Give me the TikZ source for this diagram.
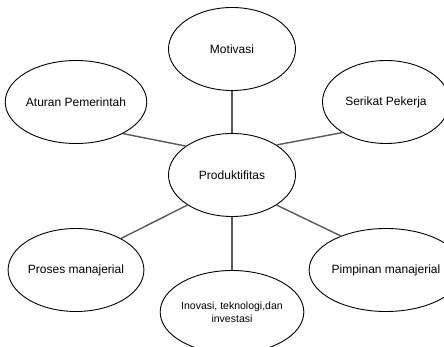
\documentclass[tikz,border=0pt]{standalone}
\usepackage{fontspec}
\setmainfont{Liberation Sans}
\usetikzlibrary{shapes,positioning}

\begin{document}
\begin{tikzpicture}[x=1pt, y=-1pt, every node/.style={ellipse, draw, line width=0.9pt, minimum width=127pt, minimum height=83pt, inner sep=0pt, font=\fontsize{12}{14}\selectfont}]
				\useasboundingbox (0,0) rectangle (444,347);
				\node (motiv) at (232,49) {Motivasi};
				\node (aturan) at (76,102) {Aturan Pemerintah};
				\node (serikat) at (386,102) {Serikat Pekerja};
				\node (prod) at (232,175) {Produktifitas};
				\node (proses) at (76,270) {Proses manajerial};
				\node (pimpinan) at (386,270) {Pimpinan manajerial};
				\node[align=center, font=\fontsize{10.5}{12.5}\selectfont] (inovasi) at (232,312) {Inovasi, teknologi,dan\\investasi};
				
				\draw[line width=1.4pt, black!65] (motiv) -- (prod);
				\draw[line width=1.4pt, black!65] (aturan.-34) -- (prod.148);
				\draw[line width=1.4pt, black!65] (prod.34) -- (serikat.215);
				\draw[line width=1.4pt, black!65] (prod.214) -- (proses.35);
				\draw[line width=1.4pt, black!65] (prod.-34) -- (pimpinan.143);
				\draw[line width=1.4pt, black!65] (prod) -- (inovasi);
			\end{tikzpicture}
\end{document}
